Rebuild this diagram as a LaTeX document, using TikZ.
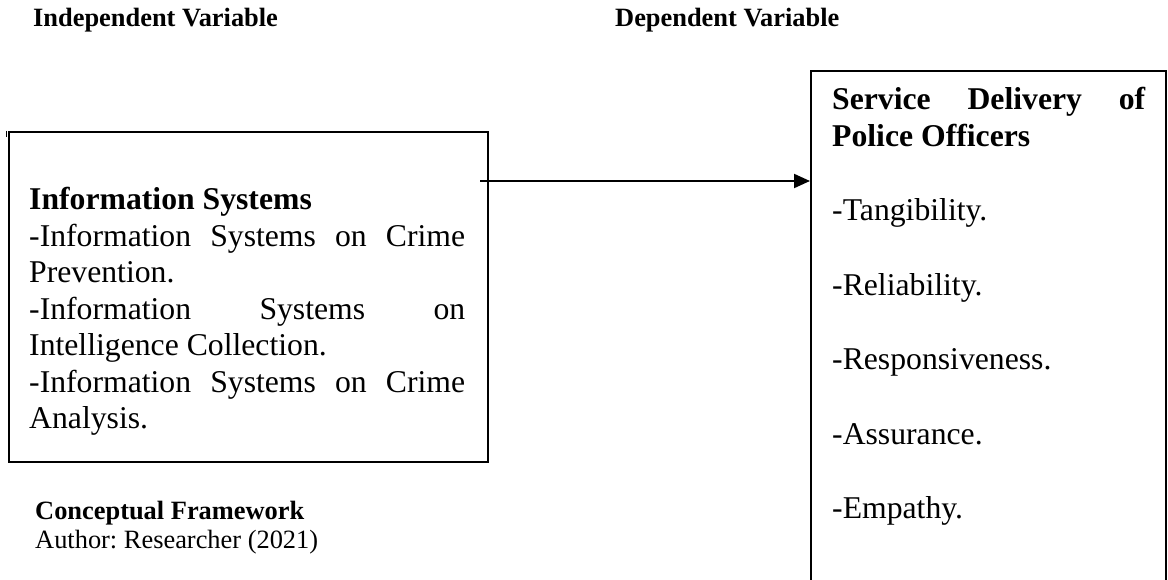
\documentclass[tikz,border=0pt]{standalone}
\usepackage{fontspec}
\setmainfont{Liberation Serif}
\usetikzlibrary{arrows.meta, positioning}
\frenchspacing

\newcommand{\bodysize}{\fontsize{31.7}{36.5}\selectfont}
\newcommand{\notesize}{\fontsize{26.4}{30}\selectfont}

\begin{document}
\begin{tikzpicture}[x=1pt, y=-1pt,
  frame/.style={draw, line width=2pt, inner sep=0pt, anchor=north west},
  boxtext/.style={anchor=base west, inner sep=0pt, font=\bodysize},
  note/.style={anchor=base west, inner sep=0pt, font=\notesize},
  arr/.style={-{Triangle[length=16pt, width=14pt]}, line width=2pt}
]

  \useasboundingbox (0,0) rectangle (1168,580);
  \clip (0,0) rectangle (1168,580);

  % Headings
  \node[note] (indep) at (33,27)  {\bfseries Independent Variable};
  \node[note] (dep)   at (615,27) {\bfseries Dependent Variable};

  % Left box
  \node[frame, minimum width=479pt, minimum height=330pt] (lbox) at (8,131) {};
  \node[boxtext] (ltext) at ([xshift=21pt, yshift=-79pt]lbox.north west)
        {\parbox[t]{436pt}{\tolerance=10000\hbadness=10000
          {\bfseries Information Systems}\par
          -Information Systems on Crime\linebreak Prevention.\par
          -Information Systems on\linebreak Intelligence Collection.\par
          -Information Systems on Crime\linebreak Analysis.}};
  \draw[line width=1.2pt] ([xshift=-1.8pt]lbox.north west) -- ++(0,-6pt);

  % Right box
  \node[frame, minimum width=355pt, minimum height=540pt] (rbox) at (810,70) {};
  \node[boxtext] (rtext) at ([xshift=22pt, yshift=-40pt]rbox.north west)
        {\parbox[t]{313pt}{\tolerance=10000\hbadness=10000
          {\bfseries Service Delivery of\linebreak Police Officers}\par\vspace{38pt}
          -Tangibility.\par\vspace{38pt}
          -Reliability.\par\vspace{38pt}
          -Responsiveness.\par\vspace{38pt}
          -Assurance.\par\vspace{38pt}
          -Empathy.}};

  % Caption
  \node[note] (cf)     at (35,519) {\bfseries Conceptual Framework};
  \node[note] (author) at (35,548) {Author: Researcher (2021)};

  % ── Arrow ──
  \coordinate (arrstart) at (480,181);
  \draw[arr] (arrstart) -- (arrstart -| rbox.west);

\end{tikzpicture}
\end{document}
